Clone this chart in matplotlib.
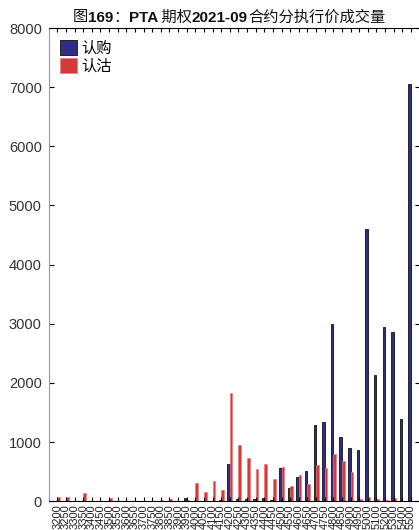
import numpy as np
import matplotlib
matplotlib.use("Agg")
import matplotlib.pyplot as plt

cjk = ['Noto Sans CJK SC', 'DejaVu Sans']
latin = ['Liberation Sans', 'DejaVu Sans']
plt.rcParams['font.family'] = latin

strikes = ['3200', '3250', '3300', '3350', '3400', '3450', '3500', '3550', '3600', '3650',
           '3700', '3750', '3800', '3850', '3900', '3950', '4000', '4050', '4100', '4150',
           '4200', '4250', '4300', '4350', '4400', '4450', '4500', '4550', '4600', '4650',
           '4700', '4750', '4800', '4850', '4900', '4950', '5000', '5100', '5200', '5300',
           '5400', '5500']
calls = [0, 0, 0, 0, 0, 0, 0, 0, 0, 0,
         0, 0, 0, 0, 0, 62, 5, 10, 5, 15,
         630, 40, 45, 45, 50, 30, 563, 220, 411, 512,
         1290, 1340, 3000, 1087, 906, 867, 4600, 2130, 2950, 2870,
         1385, 7050]
puts = [65, 65, 5, 135, 5, 8, 50, 5, 12, 8,
        8, 8, 22, 45, 10, 28, 310, 150, 349, 190,
        1825, 951, 737, 546, 630, 372, 580, 253, 445, 292,
        608, 563, 805, 687, 495, 40, 78, 40, 25, 50,
        5, 5]
series_names = ['认购', '认沽']

W, H = 419, 530
fig = plt.figure(figsize=(W / 100, H / 100), dpi=100)
ax = fig.add_axes([48.7 / W, (H - 501.3) / H, (419.6 - 48.7) / W, (501.3 - 28) / H])

x = np.arange(len(strikes))
bw = 0.3
ax.bar(x - bw / 2, calls, bw, color='#2f2c85', edgecolor='#111111', linewidth=0.6,
       label=series_names[0])
ax.bar(x + bw / 2, puts, bw, color='#d33a3a', edgecolor='#e87a7a', linewidth=0.5,
       label=series_names[1])

ax.set_xlim(-1, len(strikes))
ax.set_ylim(0, 8000)
ax.set_yticks(np.arange(0, 8001, 1000))
ax.set_xticks(x)
ax.set_xticklabels(strikes, rotation=90, fontsize=8, color='#222222')
ax.tick_params(axis='x', direction='in', length=3, width=0.8, top=True, pad=2)
ax.tick_params(axis='y', direction='in', length=3.5, width=0.8, right=True,
               labelsize=10.5, labelcolor='#333333', pad=5)
ax.spines['left'].set_color('#888888')
for s in ax.spines.values():
    s.set_linewidth(0.8)
ax.spines['left'].set_color('#999999')

leg = ax.legend(loc='upper left', bbox_to_anchor=(0.03, 0.976), frameon=False,
                prop={'family': cjk, 'size': 11}, handlelength=1.15, handleheight=1.15,
                handletextpad=0.25, labelspacing=0.1, borderpad=0, borderaxespad=0)

# title with mixed bold pieces
pieces = [('图', cjk, 'normal'), ('169', latin, 'bold'), ('：', cjk, 'normal'),
          ('PTA', latin, 'bold'), (' 期权', cjk, 'normal'), ('2021-09', latin, 'bold'),
          ('合约分执行价成交量', cjk, 'normal')]
renderer = fig.canvas.get_renderer()
texts = []
for s, fam, wt in pieces:
    t = fig.text(0, 1 - 21.5 / H, s, family=fam, weight=wt, fontsize=11,
                 va='baseline', ha='left', color='#111111')
    texts.append(t)
widths = [t.get_window_extent(renderer).width for t in texts]
xpos = 229 - sum(widths) / 2
for t, w in zip(texts, widths):
    t.set_x(xpos / W)
    xpos += w

fig.savefig('out.png', dpi=100)
